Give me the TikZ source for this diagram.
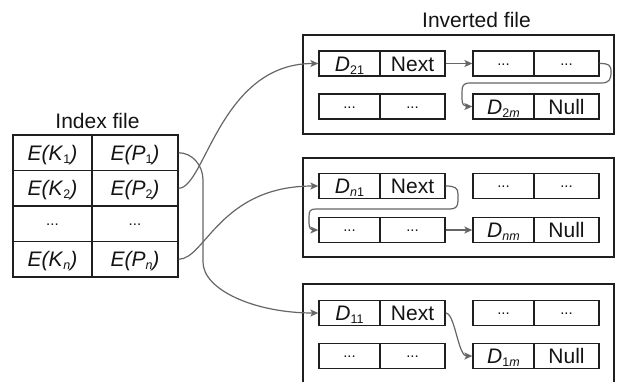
\documentclass[tikz,border=0pt]{standalone}
\usepackage{fontspec}
\setmainfont{Liberation Sans}
\usetikzlibrary{arrows.meta}
\newcommand\lsub[1]{\raisebox{-3pt}{\fontsize{12.5}{12.5}\selectfont #1}}
\newcommand\mydots{\raisebox{6pt}{\fontsize{15}{15}\selectfont ...}}
\definecolor{linec}{gray}{0.12}
\definecolor{arrc}{gray}{0.4}
\definecolor{txtc}{gray}{0.08}
\begin{document}
\begin{tikzpicture}[x=1pt,y=-1pt,
  cell/.style={draw=linec, line width=1.35pt, inner sep=0pt, fill=white,
    text=txtc, text height=15pt, text depth=0pt, font=\fontsize{21}{25}\selectfont},
  lc/.style={cell, minimum width=61pt, minimum height=25pt},
  rc/.style={cell, minimum width=65pt, minimum height=25pt},
  ia/.style={cell, minimum width=79pt, minimum height=35.5pt},
  ib/.style={cell, minimum width=86pt, minimum height=35.5pt},
  outer/.style={draw=linec, line width=1.4pt, inner sep=0pt, minimum width=311pt, minimum height=99pt},
  lbl/.style={text=txtc, font=\fontsize{21}{25}\selectfont, anchor=base, inner sep=0pt},
  arr/.style={draw=arrc, line width=1.2pt, -{Stealth[length=8pt,width=7pt,inset=2pt]}}
]
\fill[white] (0,0) rectangle (619,381);
\useasboundingbox (0,0) rectangle (619,381);

% labels
\node[lbl] (lidx) at (97.5,128) {Index file};
\node[lbl] (linv) at (476.5,27) {Inverted file};

% index table
\node[ia] (k1) at (52.5,152.75) {\textit{E(K}\lsub{1}\textit{)}};
\node[ib] (p1) at (135,152.75) {\textit{E(P}\lsub{1}\textit{)}};
\node[ia] (k2) at (52.5,188.25) {\textit{E(K}\lsub{2}\textit{)}};
\node[ib] (p2) at (135,188.25) {\textit{E(P}\lsub{2}\textit{)}};
\node[ia] (k3) at (52.5,223.75) {\mydots};
\node[ib] (p3) at (135,223.75) {\mydots};
\node[ia] (kn) at (52.5,259.25) {\textit{E(K}\lsub{\textit{n}}\textit{)}};
\node[ib] (pn) at (135,259.25) {\textit{E(P}\lsub{\textit{n}}\textit{)}};

% outer boxes
\node[outer] (box1) at (458.5,84.5) {};
\node[outer] (box2) at (458.5,207.5) {};
\draw[draw=linec, line width=1.4pt] (303,395) -- (303,284) -- (614,284) -- (614,395);

% box 1
\node[lc] (b1a) at (349.5,63.5) {\textit{D}\lsub{21}};
\node[rc] (b1b) at (412.5,63.5) {Next};
\node[lc] (b1c) at (503.5,63.5) {\mydots};
\node[rc] (b1d) at (566.5,63.5) {\mydots};
\node[lc] (b1e) at (349.5,106.5) {\mydots};
\node[rc] (b1f) at (412.5,106.5) {\mydots};
\node[lc] (b1g) at (503.5,106.5) {\textit{D}\lsub{2\textit{m}}};
\node[rc] (b1h) at (566.5,106.5) {Null};

% box 2
\node[lc] (b2a) at (349.5,186) {\textit{D}\lsub{\textit{n}1}};
\node[rc] (b2b) at (412.5,186) {Next};
\node[lc] (b2c) at (503.5,186) {\mydots};
\node[rc] (b2d) at (566.5,186) {\mydots};
\node[lc] (b2e) at (349.5,230) {\mydots};
\node[rc] (b2f) at (412.5,230) {\mydots};
\node[lc] (b2g) at (503.5,230) {\textit{D}\lsub{\textit{nm}}};
\node[rc] (b2h) at (566.5,230) {Null};

% box 3
\node[lc] (b3a) at (349.5,313) {\textit{D}\lsub{11}};
\node[rc] (b3b) at (412.5,313) {Next};
\node[lc] (b3c) at (503.5,313) {\mydots};
\node[rc] (b3d) at (566.5,313) {\mydots};
\node[lc] (b3e) at (349.5,356) {\mydots};
\node[rc] (b3f) at (412.5,356) {\mydots};
\node[lc] (b3g) at (503.5,356) {\textit{D}\lsub{1\textit{m}}};
\node[rc] (b3h) at (566.5,356) {Null};

% links from index file
\draw[arr] (p1.east) .. controls (192,152.75) and (203,165) .. (203,180)
  -- (203,262) .. controls (203,290) and (255,313) .. (b3a.west);
\draw[arr] (p2.east) .. controls (205,188.25) and (220,63.5) .. (b1a.west);
\draw[arr] (pn.east) .. controls (205,259.25) and (220,186) .. (b2a.west);

% box 1 links
\draw[arr] (b1b.east) -- (b1c.west);
\draw[arr] (b1d.east) .. controls (609,63.5) and (611,65) .. (611,72)
  .. controls (611,80) and (609,83) .. (601,83) -- (470,83)
  .. controls (463,83) and (462,86) .. (462,92) -- (462,99)
  .. controls (462,104) and (464,106.5) .. (b1g.west);

% box 2 links
\draw[arr] (b2b.east) .. controls (455,186) and (458,188) .. (458,194) -- (458,201)
  .. controls (458,207) and (455,209) .. (450,209) -- (316,209)
  .. controls (310,209) and (309,211) .. (309,217) -- (309,223)
  .. controls (309,228) and (311,230) .. (b2e.west);
\draw[arr] (b2f.east) -- (b2g.west);

% box 3 link
\draw[arr] (b3b.east) .. controls (455,313) and (458,356) .. (b3g.west);
\end{tikzpicture}
\end{document}
